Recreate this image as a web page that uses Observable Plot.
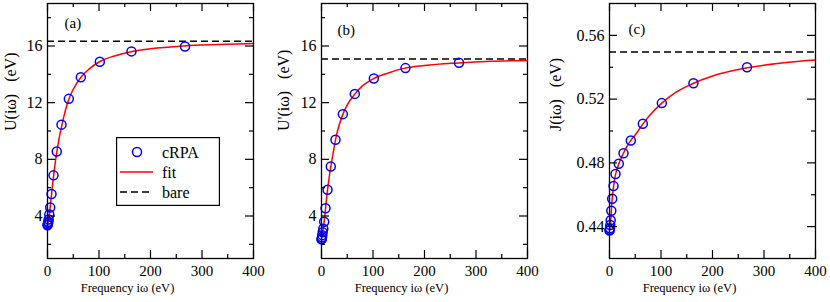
<!DOCTYPE html>
<html>
<head>
<meta charset="utf-8">
<script src="https://cdn.jsdelivr.net/npm/d3@7"></script>
<script src="https://cdn.jsdelivr.net/npm/@observablehq/plot@0.6"></script>
<style>
  html, body { margin: 0; padding: 0; background: white; }
  #wrap { position: relative; width: 830px; height: 302px; font-family: "Liberation Serif", "Times New Roman", serif; }
  #wrap svg.plot, #wrap > svg { position: absolute; left: 0; top: 0; background: transparent !important; overflow: visible; }
  #wrap svg text { font-family: "Liberation Serif", "Times New Roman", serif !important; fill: black; }
</style>
</head>
<body>
<div id="wrap"></div>
<script>
// Frequencies of cRPA points (eV)
const freq = [0, 0.5, 1.0, 1.5, 2.3, 3.5, 5.2, 7.8, 11.7, 18, 27.2, 41.4, 64.7, 101.6, 163, 267];
// cRPA values
const uCrpa  = [3.35, 3.4, 3.5, 3.6, 3.75, 4.1, 4.6, 5.55, 6.87, 8.55, 10.45, 12.27, 13.8, 14.89, 15.62, 15.97];
const upCrpa = [2.35, 2.4, 2.5, 2.65, 2.85, 3.1, 3.6, 4.55, 5.85, 7.5, 9.38, 11.19, 12.62, 13.7, 14.44, 14.82];
const jCrpa  = [0.4375, 0.438, 0.439, 0.441, 0.444, 0.450, 0.4575, 0.4655, 0.473, 0.4795, 0.486, 0.494, 0.5045, 0.5175, 0.530, 0.540];
// Fit curves
const fitFreq = [0, 2, 5, 10, 15, 20, 30, 40, 50, 65, 80, 100, 130, 160, 200, 265, 330, 400];
const uFit  = [3.35, 3.7, 4.55, 6.25, 7.75, 8.95, 10.75, 12.1, 12.95, 13.8, 14.35, 14.87, 15.3, 15.58, 15.8, 16.0, 16.1, 16.18];
const upFit = [2.35, 2.8, 3.55, 5.3, 6.75, 7.9, 9.85, 11.05, 11.85, 12.62, 13.2, 13.68, 14.1, 14.42, 14.62, 14.8, 14.92, 14.98];
const jFit  = [0.4375, 0.443, 0.4565, 0.470, 0.4765, 0.481, 0.488, 0.4935, 0.4975, 0.5045, 0.5105, 0.517, 0.5245, 0.5295, 0.5345, 0.5395, 0.5425, 0.5445];
// Bare values
const uBare = 16.33, upBare = 15.08, jBare = 0.5495;
// Axis ticks
const xMajor = [0, 100, 200, 300, 400];
const xMinor = [50, 150, 250, 350];
const uMajor = [4, 8, 12, 16];
const uMinor = [2, 6, 10, 14, 18];
const jMajor = [0.44, 0.48, 0.52, 0.56];
const jMinor = [0.46, 0.50, 0.54];
const panelTags = ["(a)", "(b)", "(c)"];
const yLabels = ["U(iω)   (eV)", "U'(iω)   (eV)", "J(iω)   (eV)"];
const xLabel = "Frequency iω (eV)";

const W = 830, H = 302, MT = 3, MB = 44;
const innerH = H - MT - MB;

function panel({left, right, yDomain, crpa, fit, bare, major, minor, fmt, tag, ylab, tagDx, tagDy, ylabDx}) {
  const innerW = W - left - right;
  const pts = freq.map((f, i) => ({f, v: crpa[i]}));
  const line = fitFreq.map((f, i) => ({f, v: fit[i]}));
  return Plot.plot({
    width: W, height: H,
    marginLeft: left, marginRight: right, marginTop: MT, marginBottom: MB,
    x: {domain: [0, 400]},
    y: {domain: yDomain},
    marks: [
      Plot.ruleY([bare], {stroke: "black", strokeWidth: 1.5, strokeDasharray: "7,4"}),
      Plot.line(line, {x: "f", y: "v", stroke: "#ff0000", strokeWidth: 1.5, curve: "monotone-x"}),
      Plot.dot(pts, {x: "f", y: "v", r: 4.5, stroke: "#0000ff", strokeWidth: 1.5, fill: "none"}),
      // inward ticks
      Plot.ruleX(xMajor, {insetTop: innerH - 8, stroke: "black", strokeWidth: 1.2}),
      Plot.ruleX(xMajor, {insetBottom: innerH - 8, stroke: "black", strokeWidth: 1.2}),
      Plot.ruleX(xMinor, {insetTop: innerH - 4, stroke: "black", strokeWidth: 1.2}),
      Plot.ruleX(xMinor, {insetBottom: innerH - 4, stroke: "black", strokeWidth: 1.2}),
      Plot.ruleY(major, {insetRight: innerW - 8, stroke: "black", strokeWidth: 1.2}),
      Plot.ruleY(major, {insetLeft: innerW - 8, stroke: "black", strokeWidth: 1.2}),
      Plot.ruleY(minor, {insetRight: innerW - 4, stroke: "black", strokeWidth: 1.2}),
      Plot.ruleY(minor, {insetLeft: innerW - 4, stroke: "black", strokeWidth: 1.2}),
      Plot.frame({stroke: "black", strokeWidth: 1.3}),
      Plot.axisX({ticks: xMajor, tickSize: 0, tickPadding: 7, label: null, fontSize: 15}),
      Plot.axisY({ticks: major, tickSize: 0, tickPadding: 5, label: null, tickFormat: fmt, fontSize: 16}),
      Plot.text([tag], {text: d => d, frameAnchor: "top-left", textAnchor: "start", lineAnchor: "middle", dx: tagDx, dy: tagDy, fontSize: 15}),
      Plot.text([ylab], {text: d => d, frameAnchor: "left", rotate: -90, dx: ylabDx, fontSize: 16}),
      Plot.text([xLabel], {text: d => d, frameAnchor: "bottom", dx: -23, dy: 33, fontSize: 12.5})
    ]
  });
}

const wrap = document.getElementById("wrap");
const intFmt = d => String(d);
const decFmt = d3.format(".2f");
wrap.appendChild(panel({left: 47, right: W - 253, yDomain: [1, 19], crpa: uCrpa, fit: uFit, bare: uBare,
  major: uMajor, minor: uMinor, fmt: intFmt, tag: panelTags[0], ylab: yLabels[0], tagDx: 17, tagDy: 20, ylabDx: -37}));
wrap.appendChild(panel({left: 321, right: W - 527, yDomain: [1, 19], crpa: upCrpa, fit: upFit, bare: upBare,
  major: uMajor, minor: uMinor, fmt: intFmt, tag: panelTags[1], ylab: yLabels[1], tagDx: 16, tagDy: 27, ylabDx: -38}));
wrap.appendChild(panel({left: 609, right: W - 815, yDomain: [0.42, 0.58], crpa: jCrpa, fit: jFit, bare: jBare,
  major: jMajor, minor: jMinor, fmt: decFmt, tag: panelTags[2], ylab: yLabels[2], tagDx: 19, tagDy: 26, ylabDx: -54}));

// Legend (panel a)
const legendItems = ["cRPA", "fit", "bare"];
const ns = "http://www.w3.org/2000/svg";
const lg = document.createElementNS(ns, "svg");
lg.setAttribute("width", 104); lg.setAttribute("height", 69);
lg.style.left = "116px"; lg.style.top = "137px";
function el(tag, attrs, text) {
  const e = document.createElementNS(ns, tag);
  for (const k in attrs) e.setAttribute(k, attrs[k]);
  if (text) e.textContent = text;
  lg.appendChild(e);
  return e;
}
el("rect", {x: 0.6, y: 0.6, width: 102.8, height: 67.8, fill: "white", stroke: "black", "stroke-width": 1.2});
el("circle", {cx: 21, cy: 15, r: 4.5, fill: "none", stroke: "#0000ff", "stroke-width": 1.5});
el("line", {x1: 4, x2: 37, y1: 35, y2: 35, stroke: "#ff0000", "stroke-width": 1.5});
el("line", {x1: 4, x2: 37, y1: 55, y2: 55, stroke: "black", "stroke-width": 1.5, "stroke-dasharray": "7,4"});
legendItems.forEach((t, i) => el("text", {x: 46, y: 15 + 20 * i, "dominant-baseline": "central", "font-size": 16}, t));
wrap.appendChild(lg);
</script>
</body>
</html>
